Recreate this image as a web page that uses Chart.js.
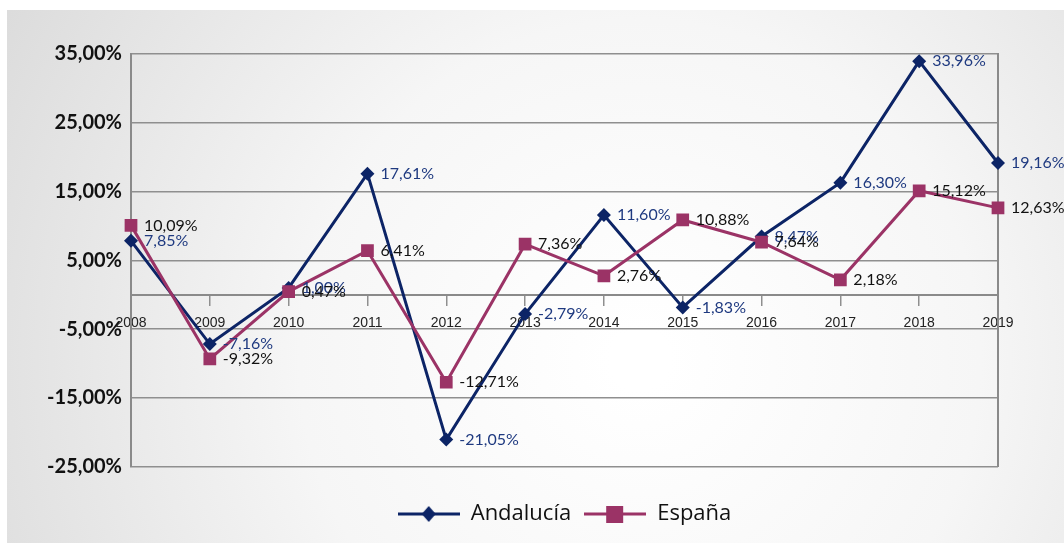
<!DOCTYPE html>
<html>
<head>
<meta charset="utf-8">
<script src="https://cdn.jsdelivr.net/npm/chart.js@4"></script>
<style>
  body { margin: 0; background: #fff; }
</style>
</head>
<body>
<canvas id="chart" width="1064" height="543"></canvas>
<script>
var years = ['2008', '2009', '2010', '2011', '2012', '2013', '2014', '2015', '2016', '2017', '2018', '2019'];
var andalucia = [7.85, -7.16, 1.00, 17.61, -21.05, -2.79, 11.60, -1.83, 8.47, 16.30, 33.96, 19.16];
var espana = [10.09, -9.32, 0.47, 6.41, -12.71, 7.36, 2.76, 10.88, 7.64, 2.18, 15.12, 12.63];
var yTicks = [-25, -15, -5, 5, 15, 25, 35];

var navy = '#0c2466';
var plum = '#9b3366';

function pct(v) {
    return v.toFixed(2).replace('.', ',') + '%';
}

// legend symbol: line with the marker in the middle
function legendIcon(color, shape) {
    var c = document.createElement('canvas');
    c.width = 62;
    c.height = 20;
    var g = c.getContext('2d');
    g.strokeStyle = color;
    g.lineWidth = 3;
    g.beginPath();
    g.moveTo(0, 10);
    g.lineTo(62, 10);
    g.stroke();
    g.fillStyle = color;
    g.beginPath();
    if (shape === 'diamond') {
        g.moveTo(31, 2);
        g.lineTo(38, 10);
        g.lineTo(31, 18);
        g.lineTo(24, 10);
    } else {
        g.rect(22, 2, 17, 17);
    }
    g.fill();
    return c;
}

var background = {
    id: 'background',
    beforeDraw: function (chart) {
        var ctx = chart.ctx;
        ctx.save();
        ctx.fillStyle = '#ffffff';
        ctx.fillRect(0, 0, chart.width, chart.height);
        var grad = ctx.createRadialGradient(640, 360, 30, 640, 360, 720);
        grad.addColorStop(0, '#ffffff');
        grad.addColorStop(0.45, '#f6f6f6');
        grad.addColorStop(1, '#dcdcdc');
        ctx.fillStyle = grad;
        ctx.fillRect(7, 10, chart.width - 7, chart.height - 10);
        ctx.restore();
    }
};

var valueLabels = {
    id: 'valueLabels',
    afterDatasetsDraw: function (chart) {
        var ctx = chart.ctx;
        ctx.save();
        ctx.font = '16px Lato';
        ctx.textAlign = 'left';
        ctx.textBaseline = 'middle';
        chart.data.datasets.forEach(function (ds, i) {
            var meta = chart.getDatasetMeta(i);
            ctx.fillStyle = ds.labelColor;
            meta.data.forEach(function (pt, j) {
                ctx.fillText(pct(ds.data[j]), pt.x + 13, pt.y);
            });
        });
        ctx.restore();
    }
};

var ctx = document.getElementById('chart').getContext('2d');
var chart = new Chart(ctx, {
    type: 'line',
    data: {
        labels: years,
        datasets: [{
            label: 'Andalucía',
            data: andalucia,
            borderColor: navy,
            backgroundColor: navy,
            borderWidth: 3,
            pointStyle: 'rectRot',
            pointRadius: 7,
            pointBorderWidth: 0,
            labelColor: '#1f3a80',
            legendIcon: legendIcon(navy, 'diamond'),
            order: 1
        }, {
            label: 'España',
            data: espana,
            borderColor: plum,
            backgroundColor: plum,
            borderWidth: 3,
            pointStyle: 'rect',
            pointRadius: 9,
            pointBorderWidth: 0,
            labelColor: '#111111',
            legendIcon: legendIcon(plum, 'square'),
            order: 0
        }]
    },
    options: {
        responsive: false,
        animation: false,
        layout: {
            padding: { top: 54, left: 0, right: 0, bottom: 8 }
        },
        plugins: {
            tooltip: { enabled: false },
            legend: {
                position: 'bottom',
                fullSize: false,
                title: { display: true, text: '', font: { size: 1 }, padding: { top: 22, bottom: 0 } },
                labels: {
                    usePointStyle: true,
                    pointStyleWidth: 62,
                    padding: 13,
                    color: '#111',
                    font: { family: 'Open Sans', size: 22 },
                    sort: function (a, b) { return a.datasetIndex - b.datasetIndex; },
                    generateLabels: function (chart) {
                        return chart.data.datasets.map(function (ds, i) {
                            return {
                                text: ds.label,
                                datasetIndex: i,
                                pointStyle: ds.legendIcon,
                                fillStyle: ds.borderColor,
                                strokeStyle: ds.borderColor,
                                lineWidth: 0,
                                fontColor: '#111'
                            };
                        });
                    }
                }
            }
        },
        scales: {
            x: {
                position: { y: 0 },
                offset: false,
                grid: {
                    drawOnChartArea: false,
                    drawTicks: true,
                    tickLength: 10,
                    tickColor: '#8f8f8f',
                    lineWidth: 1.5
                },
                border: { display: true, color: '#8a8a8a', width: 2 },
                ticks: {
                    color: '#222',
                    padding: 10,
                    maxRotation: 0,
                    autoSkip: false,
                    font: { family: 'Liberation Sans', size: 14 }
                }
            },
            y: {
                min: -25,
                max: 35,
                afterBuildTicks: function (scale) {
                    scale.ticks = yTicks.map(function (v) { return { value: v }; });
                },
                afterFit: function (scale) { scale.width = 131; },
                grid: { color: '#8f8f8f', lineWidth: 1.5, drawTicks: false },
                border: { display: true, color: '#8a8a8a', width: 2 },
                ticks: {
                    padding: 9,
                    color: '#111',
                    font: { family: 'Lato', size: 20, weight: 'bold' },
                    callback: function (v) { return pct(v); }
                }
            },
            right: {
                position: 'right',
                min: -25,
                max: 35,
                afterFit: function (scale) { scale.width = 66; },
                grid: { drawOnChartArea: false, drawTicks: false },
                border: { display: true, color: '#8a8a8a', width: 2 },
                ticks: { display: false }
            }
        }
    },
    plugins: [background, valueLabels]
});
</script>
</body>
</html>
